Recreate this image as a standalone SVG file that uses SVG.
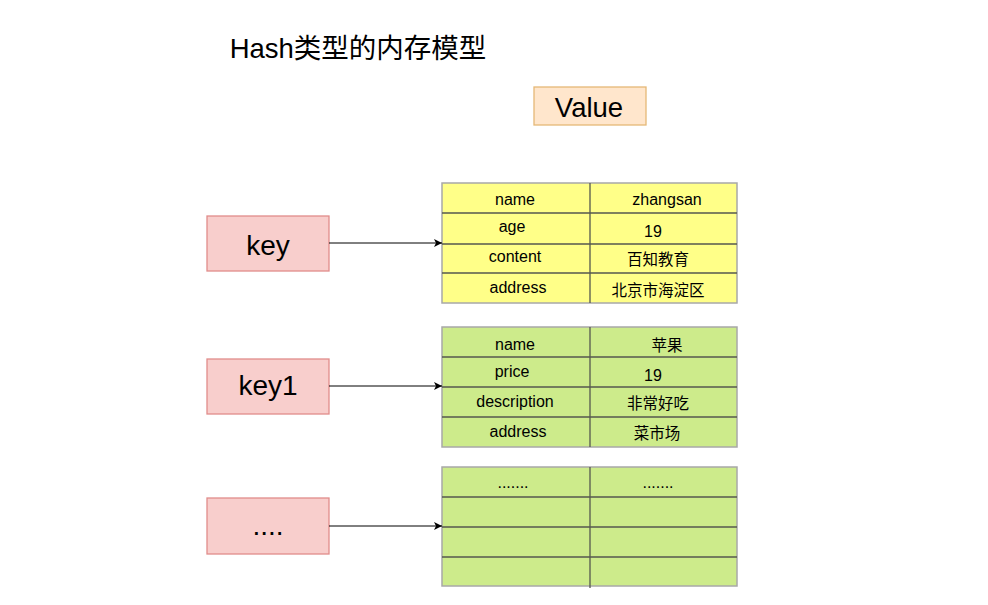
<svg xmlns="http://www.w3.org/2000/svg" width="988" height="605" viewBox="0 0 988 605">
<style>
text{font-family:"Liberation Sans","Noto Sans CJK SC",sans-serif;fill:#000;text-anchor:middle}
.key rect{fill:#f8cecc;stroke:#e08d8b;stroke-width:1.3}
.key text{font-size:28px}
.cell{font-size:16px}
.cj{font-size:15.5px}
.t1 .bg{fill:#ffff88}
.t2 .bg,.t3 .bg{fill:#cdeb8b}
.bg{stroke:#a8a8a8;stroke-width:1.5}
.grid{stroke:#55584f;stroke-width:1.3;fill:none}
.conn line{stroke:#000;stroke-width:1}
</style>
<defs>
<marker id="arr" markerWidth="10" markerHeight="10" refX="9" refY="5" orient="auto" markerUnits="userSpaceOnUse">
<path d="M1,1 L9,5 L1,9 L3,5 Z" fill="#000"/>
</marker>
</defs>
<rect width="988" height="605" fill="#fff"/>
<g id="title"><text x="358" y="58" style="font-size:27.5px">Hash类型的内存模型</text></g>
<g id="value">
<rect x="534" y="87" width="112" height="38" fill="#ffe6cc" stroke="#e5b877" stroke-width="1.3"/>
<text x="589" y="117" style="font-size:27.5px">Value</text>
</g>
<g id="key" class="key"><rect x="207" y="216" width="122" height="55"/><text x="268" y="255">key</text></g>
<g id="key1" class="key"><rect x="207" y="359" width="122" height="55"/><text x="268" y="395">key1</text></g>
<g id="keyMore" class="key"><rect x="207" y="498" width="122" height="56"/><text x="268" y="535">....</text></g>
<g id="table1" class="t1">
<rect class="bg" x="442" y="183" width="295" height="120"/>
<path class="grid" d="M442,213H737M442,244H737M442,273H737M590,183V303"/>
<text class="cell" x="515" y="205">name</text><text class="cell" x="667" y="205">zhangsan</text>
<text class="cell" x="512" y="232">age</text><text class="cell" x="653" y="237">19</text>
<text class="cell" x="515" y="262">content</text><text class="cj" x="658" y="265">百知教育</text>
<text class="cell" x="518" y="293">address</text><text class="cj" x="658" y="296">北京市海淀区</text>
</g>
<g id="table2" class="t2">
<rect class="bg" x="442" y="327" width="295" height="120"/>
<path class="grid" d="M442,357H737M442,387H737M442,417H737M590,327V447"/>
<text class="cell" x="515" y="350">name</text><text class="cj" x="667" y="351">苹果</text>
<text class="cell" x="512" y="377">price</text><text class="cell" x="653" y="381">19</text>
<text class="cell" x="515" y="407">description</text><text class="cj" x="658" y="409">非常好吃</text>
<text class="cell" x="518" y="437">address</text><text class="cj" x="657" y="439">菜市场</text>
</g>
<g id="table3" class="t3">
<rect class="bg" x="442" y="467" width="295" height="119"/>
<path class="grid" d="M442,497H737M442,527H737M442,557H737M590,467V588"/>
<text class="cell" x="513" y="488">.......</text><text class="cell" x="658" y="488">.......</text>
</g>
<g id="connectors" class="conn">
<line x1="329" y1="243" x2="442" y2="243" marker-end="url(#arr)"/>
<line x1="329" y1="386" x2="442" y2="386" marker-end="url(#arr)"/>
<line x1="329" y1="526" x2="442" y2="526" marker-end="url(#arr)"/>
</g>
</svg>
